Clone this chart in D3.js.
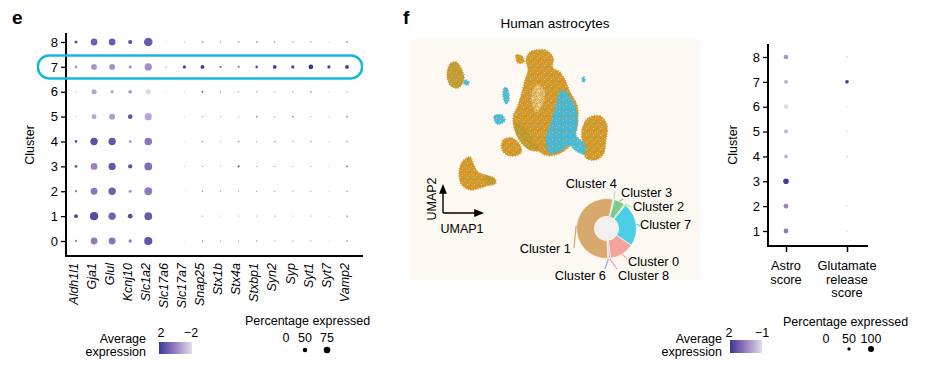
<!DOCTYPE html>
<html>
<head>
<meta charset="utf-8">
<script src="https://cdnjs.cloudflare.com/ajax/libs/d3/7.8.5/d3.min.js"></script>
<style>
  body { margin: 0; background: #fff; }
  svg { display: block; font-family: "Liberation Sans", Arial, Helvetica, sans-serif; }
</style>
</head>
<body>
<svg width="928" height="373"></svg>
<script>
// ---------- data: panel e (dot plot) ----------
const genes = ["Aldh1l1","Gja1","Glul","Kcnj10","Slc1a2","Slc17a6","Slc17a7","Snap25",
               "Stx1b","Stx4a","Stxbp1","Syn2","Syp","Syt1","Syt7","Vamp2"];
const clustersE = ["0","1","2","3","4","5","6","7","8"];
// percentage expressed, rows = cluster 0..8, cols = genes
const pctE = [
  [22,78,80,35,95, 5, 5,12,10,10,12,10,10,10, 8,15],
  [42,95,85,52,90, 5, 5,10, 8,10,10,12, 8,10, 8,15],
  [22,78,85,33,90, 5, 5,12,10,10,10,12,10,10, 8,12],
  [30,78,83,45,90, 5, 8,10,10,20,10,12,10,10, 8,18],
  [28,85,85,28,88, 5, 8,15,10,15,10,15,10,12, 8,15],
  [10,55,65,50,83, 5, 8,12,10,10,15,12,15,10, 8,18],
  [10,58,35,40,58, 8, 8,18,10,10,10,10,12,15, 8,10],
  [25,65,65,35,83,12,33,42,20,20,25,40,33,52,33,40],
  [33,78,78,45,100,8,10,15,12,15,15,15,12,12, 8,18]
];
// average expression (scaled), same layout
const avgE = [
  [-0.2, 0.2, 0.3, 0.2, 1.2,-1.8,-1.6, 0.2,-0.8,-0.6,-0.2,-0.6,-0.6,-0.6,-1.2, 0.0],
  [ 1.5, 1.4, 0.8, 1.5, 1.0,-1.8,-1.8,-0.5,-1.2,-0.8,-0.8,-0.4,-1.0,-0.6,-1.5,-0.3],
  [ 0.2, 0.3, 0.9,-0.4, 0.2,-1.8,-1.6,-0.3,-0.8,-0.6,-0.8,-0.5,-0.8,-0.7,-1.2,-0.4],
  [ 1.2, 0.0, 1.1, 1.4, 0.5,-1.8,-1.4,-0.5,-0.8, 1.0,-0.6,-0.4,-0.6,-0.6,-1.0, 0.5],
  [ 1.0, 1.3, 1.1,-0.6, 0.3,-1.8,-1.5,-0.2,-1.0, 0.0,-0.8,-0.2,-0.8,-0.3,-1.2,-0.3],
  [-1.0,-0.8,-0.6, 1.2,-0.8,-1.8,-1.5,-0.3,-0.8,-1.0, 0.2,-0.5, 0.2,-0.8,-1.2,-0.2],
  [-1.0,-0.8,-0.8,-0.5,-1.9,-1.8,-1.5, 1.0,-0.5,-0.8,-0.5,-0.5,-0.3, 0.2,-0.8,-0.5],
  [-0.3,-0.4,-0.3,-0.5,-0.3,-0.5, 1.8, 1.8, 0.8, 0.3, 1.6, 1.8, 1.8, 2.0, 1.8, 1.9],
  [ 1.2, 0.9, 1.0, 1.3, 1.0,-1.8,-1.2, 0.2,-0.3,-0.2, 0.0,-0.2,-0.5,-0.5,-1.5,-0.2]
];
const pctLegendE = [0, 50, 75];

// ---------- data: panel f (scores) ----------
const scores = [["Astro","score"], ["Glutamate","release","score"]];
const clustersF = ["1","2","3","4","5","6","7","8"];
// rows = cluster 1..8, cols = [astro, glutamate]
const pctF = [[78,11],[78,11],[93,1],[60,11],[63,11],[78,7],[60,56],[75,15]];
const avgF = [[0.6,0],[0.5,-0.3],[1.9,-1],[-0.3,0],[-0.3,-0.2],[-0.9,0],[-0.2,1.9],[0.2,-0.2]];
const pctLegendF = [0, 50, 100];

// ---------- data: donut of cluster shares ----------
const donutClusters = ["Cluster 4","Cluster 3","Cluster 2","Cluster 7","Cluster 0","Cluster 8","Cluster 6","Cluster 1"];
const donutShares = [0.8, 5.8, 0.8, 23.6, 13.3, 1.0, 0.6, 54.1];
const donutColors = ["#a6e3d6","#7ccb8c","#bfe0a0","#4ccfe6","#f5a39d","#e79bc8","#8eb0e6","#d7a96c"];

// ---------- data: UMAP blobs (umap units) ----------
const umapBlobs = [
  {mix:"mGreen",  pts:[[4.0,21.6],[4.6,21.8],[5.2,21.0],[5.4,20.0],[4.8,19.2],[4.1,19.4],[3.7,20.4]]},
  {mix:"mCyan",   pts:[[5.5,20.0],[5.9,19.8],[5.8,19.5],[5.4,19.6]]},
  {mix:"mOrange", pts:[[12.0,22.8],[13.5,23.0],[14.3,22.3],[14.3,21.2],[15.0,20.8],[15.5,20.0],[16.0,18.8],[16.7,17.5],
                       [16.8,16.0],[16.5,14.5],[15.8,13.2],[14.5,12.5],[13.5,12.5],[12.5,13.2],[11.5,14.0],[10.6,15.0],
                       [10.3,16.2],[10.8,17.5],[11.2,18.8],[11.5,20.0],[11.8,21.0],[11.6,22.0]]},
  {mix:"mLight",  pts:[[12.6,19.5],[13.4,19.0],[13.2,17.5],[12.6,16.8],[12.2,18.0]]},
  {mix:"mCyan",   pts:[[15.2,19.0],[16.2,18.0],[16.7,16.5],[16.5,14.5],[15.5,13.2],[14.0,12.7],[13.6,14.0],[14.2,16.0],[14.6,17.5]]},
  {mix:"mGreen",  pts:[[10.4,15.8],[11.5,15.2],[12.2,14.0],[13.0,13.0],[12.0,13.0],[10.8,14.2]]},
  {mix:"mOrange", pts:[[10.6,22.5],[11.2,22.4],[11.4,21.8],[10.8,21.7]]},
  {mix:"mCyan",   pts:[[9.4,19.2],[9.7,19.2],[9.9,18.0],[9.6,17.6],[9.3,18.4]]},
  {mix:"mCyan",   pts:[[8.4,16.4],[9.2,16.5],[9.5,15.9],[8.7,15.6]]},
  {mix:"mOrange", pts:[[17.8,16.2],[19.0,16.4],[19.7,15.5],[19.6,14.0],[19.3,12.5],[18.5,12.0],[17.6,12.2],[17.3,13.5],[17.2,15.0]]},
  {mix:"mCyan",   pts:[[16.0,15.0],[16.8,14.2],[17.5,13.5],[17.4,12.6],[16.5,13.0],[15.8,14.0]]},
  {mix:"mOrange", pts:[[9.3,14.0],[10.2,14.2],[11.0,13.5],[11.1,12.7],[10.0,12.4],[9.2,13.0]]},
  {mix:"mOrange", pts:[[5.2,11.8],[6.0,12.3],[6.4,11.5],[6.8,10.8],[7.8,10.4],[8.5,10.0],[8.0,9.6],[7.0,9.2],[6.0,9.0],[5.2,9.5],[4.9,10.5]]},
  {mix:"mGreen",  pts:[[7.4,10.4],[8.4,10.2],[8.6,9.7],[7.8,9.5]]},
  {mix:"mCyan",   pts:[[17.2,20.2],[17.4,20.3],[17.5,19.9],[17.3,19.8]]}
];

// ---------- setup ----------
const svg = d3.select("svg");
const defs = svg.append("defs");
const BG = "#fdf8f1";

//color scales
const colE = d3.scaleLinear().domain([2, 0, -2]).range(["#383a93", "#9a80c3", "#e2dde8"]).interpolate(d3.interpolateLab).clamp(true);
const colF = d3.scaleLinear().domain([2, 0.5, -1]).range(["#383a93", "#9a80c3", "#e2dde8"]).interpolate(d3.interpolateLab).clamp(true);

function gradient(id, scale, dom) {
  const gr = defs.append("linearGradient").attr("id", id);
  d3.range(0, 1.001, 0.1).forEach(t => {
    gr.append("stop").attr("offset", t).attr("stop-color", scale(dom[0] + (dom[1] - dom[0]) * t));
  });
}
gradient("gradE", colE, [2, -2]);
gradient("gradF", colF, [2, -1]);

//panel letters
svg.append("text").attr("x", 12).attr("y", 24).style("font", "bold 19px 'Liberation Sans', Arial").text("e");
svg.append("text").attr("x", 403).attr("y", 24).style("font", "bold 19px 'Liberation Sans', Arial").text("f");

// ================= panel e =================
const xE = d3.scalePoint().domain(genes).range([76, 347]);
const yE = d3.scalePoint().domain(clustersE).range([241, 42]);
const rE = d3.scaleLinear().domain([0, 100]).range([0.25, 4.3]);

const cellsE = clustersE.flatMap((c, i) => genes.map((g, j) => ({c, g, p: pctE[i][j], a: avgE[i][j]})));
svg.append("g").selectAll("circle").data(cellsE).enter().append("circle")
  .attr("cx", d => xE(d.g)).attr("cy", d => yE(d.c))
  .attr("r", d => rE(d.p)).attr("fill", d => colE(d.a));

const gyE = svg.append("g").attr("transform", "translate(66,0)")
  .call(d3.axisLeft(yE).tickSize(5).tickPadding(3));
gyE.select(".domain").remove();
gyE.selectAll("line").attr("stroke-width", 1.3);
gyE.selectAll("text").attr("font-size", 13).attr("font-family", "'Liberation Sans', Arial");

const gxE = svg.append("g").attr("transform", "translate(0,256)")
  .call(d3.axisBottom(xE).tickSize(0));
gxE.select(".domain").remove();
gxE.selectAll("text")
  .attr("transform", "rotate(-90)").attr("text-anchor", "end")
  .attr("x", -7).attr("y", 0).attr("dy", "0.1em")
  .attr("font-size", 12.5).attr("font-style", "italic").attr("font-family", "'Liberation Sans', Arial");

svg.append("path").attr("d", "M66,33V256H363").attr("fill", "none").attr("stroke", "#000").attr("stroke-width", 2);

svg.append("text").attr("transform", "translate(34,145) rotate(-90)").attr("text-anchor", "middle")
  .attr("font-size", 12.5).text("Cluster");

//highlight cluster 7
svg.append("rect").attr("x", 38).attr("y", yE("7") - 11.5).attr("width", 324).attr("height", 23).attr("rx", 11)
  .attr("fill", "none").attr("stroke", "#17b6df").attr("stroke-width", 2.5);

//legend e
const legE = svg.append("g").attr("font-size", 12.5);
legE.append("text").attr("x", 146).attr("y", 343).attr("text-anchor", "end").text("Average");
legE.append("text").attr("x", 146).attr("y", 356).attr("text-anchor", "end").text("expression");
legE.append("rect").attr("x", 159).attr("y", 342).attr("width", 33).attr("height", 12).attr("fill", "url(#gradE)");
legE.append("text").attr("x", 161).attr("y", 337).attr("text-anchor", "middle").text("2");
legE.append("text").attr("x", 191).attr("y", 337).attr("text-anchor", "middle").text("\u22122");
legE.append("text").attr("x", 245).attr("y", 325).text("Percentage expressed");
pctLegendE.forEach((v, i) => {
  const x = [286, 305, 327][i];
  legE.append("text").attr("x", x).attr("y", 342).attr("text-anchor", "middle").text(v);
  legE.append("circle").attr("cx", x).attr("cy", 350).attr("r", rE(v)).attr("fill", "#000");
});

// ================= panel f: UMAP =================
svg.append("text").attr("x", 555).attr("y", 28).attr("text-anchor", "middle").attr("font-size", 13.5).text("Human astrocytes");
svg.append("rect").attr("x", 410).attr("y", 39).attr("width", 290).attr("height", 241).attr("fill", BG);

const ORANGE = "#d5941c", CYAN = "#3cbbe6", GREEN = "#6fae48", PINK = "#e98f8a";
function speckle(id, base, specks) {
  const p = defs.append("pattern").attr("id", id).attr("patternUnits", "userSpaceOnUse").attr("width", 7).attr("height", 7);
  p.append("rect").attr("width", 7).attr("height", 7).attr("fill", base);
  specks.forEach(s => p.append("rect").attr("x", s[0]).attr("y", s[1]).attr("width", 1).attr("height", 1).attr("fill", s[2]));
}
speckle("mOrange", ORANGE, [[0,0,"#e4b15a"],[3,1,CYAN],[5,2,"#e9c07a"],[1,3,"#c88818"],[6,4,GREEN],[2,5,"#e4b15a"],[4,6,PINK],[5,5,"#c88818"]]);
speckle("mLight", "#e6bd72", [[0,0,BG],[3,1,ORANGE],[5,3,BG],[1,4,CYAN],[4,5,ORANGE],[6,6,BG],[2,2,ORANGE]]);
speckle("mCyan", CYAN, [[0,0,ORANGE],[3,1,"#7fd3ef"],[5,2,ORANGE],[1,4,GREEN],[4,5,ORANGE],[6,6,"#7fd3ef"],[2,6,ORANGE]]);
speckle("mGreen", ORANGE, [[0,0,GREEN],[2,0,GREEN],[4,1,GREEN],[1,2,PINK],[3,2,GREEN],[5,3,GREEN],[0,4,CYAN],[2,4,GREEN],[6,5,GREEN],[3,6,PINK],[5,6,GREEN],[1,6,GREEN]]);

const ux = d3.scaleLinear().domain([0, 29]).range([410, 700]);
const uy = d3.scaleLinear().domain([0, 24.1]).range([280, 39]);
const blobLine = d3.line().x(d => ux(d[0])).y(d => uy(d[1])).curve(d3.curveCatmullRomClosed);
svg.append("g").selectAll("path").data(umapBlobs).enter().append("path")
  .attr("d", d => blobLine(d.pts)).attr("fill", d => "url(#" + d.mix + ")")
  .attr("stroke", d => "url(#" + d.mix + ")").attr("stroke-width", 1.5).attr("stroke-dasharray", "1,1.5")
  .attr("opacity", 0.95);

//UMAP arrows
defs.append("marker").attr("id", "arr").attr("viewBox", "0 0 10 10").attr("refX", 8).attr("refY", 5)
  .attr("markerWidth", 7).attr("markerHeight", 7).attr("orient", "auto")
  .append("path").attr("d", "M0,1L10,5L0,9z").attr("fill", "#000");
svg.append("path").attr("d", "M443,213V186").attr("stroke", "#000").attr("stroke-width", 1.4).attr("marker-end", "url(#arr)");
svg.append("path").attr("d", "M443,213H482").attr("stroke", "#000").attr("stroke-width", 1.4).attr("marker-end", "url(#arr)");
svg.append("text").attr("transform", "translate(436,199) rotate(-90)").attr("text-anchor", "middle").attr("font-size", 12.5).text("UMAP2");
svg.append("text").attr("x", 462).attr("y", 233).attr("text-anchor", "middle").attr("font-size", 12.5).text("UMAP1");

//donut
const dcx = 606.5, dcy = 228.5, rOut = 30, rIn = 12;
const pie = d3.pie().sort(null).value(d => d).startAngle(12.5 * Math.PI / 180).endAngle(12.5 * Math.PI / 180 + 2 * Math.PI);
const arcs = pie(donutShares);
const arc = d3.arc().innerRadius(rIn).outerRadius(rOut);
const gD = svg.append("g").attr("transform", "translate(" + dcx + "," + dcy + ")");
gD.selectAll("path").data(arcs).enter().append("path")
  .attr("d", arc).attr("fill", (d, i) => donutColors[i]).attr("stroke", BG).attr("stroke-width", 0.7);
gD.append("circle").attr("r", rIn).attr("fill", "#f1f0ed");

//label layout: [text x, text y, anchor, leader end x, leader end y]
const donutLabelPos = [
  [617, 188, "end",   615, 191],
  [621, 197, "start", 623, 199],
  [633, 211, "start", 632, 207],
  [640, 229, "start", 640, 226],
  [628, 266, "start", 627, 259],
  [618, 280, "start", 617, 269],
  [606, 280, "end",   605, 269],
  [571, 253, "end",   574, 248]
];
arcs.forEach((a, i) => {
  const m = (a.startAngle + a.endAngle) / 2;
  const L = donutLabelPos[i];
  svg.append("line")
    .attr("x1", dcx + Math.sin(m) * (rOut + 0.5)).attr("y1", dcy - Math.cos(m) * (rOut + 0.5))
    .attr("x2", L[3]).attr("y2", L[4]).attr("stroke", donutColors[i]).attr("stroke-width", 1.2);
  svg.append("text").attr("x", L[0]).attr("y", L[1]).attr("text-anchor", L[2]).attr("font-size", 12.8).text(donutClusters[i]);
});

// ================= panel f: scores dot plot =================
const xF = d3.scalePoint().domain(scores.map(s => s[0])).range([786, 847]);
const yF = d3.scalePoint().domain(clustersF).range([231, 57]);
const rF = d3.scaleLinear().domain([0, 100]).range([0.3, 3]);
const cellsF = clustersF.flatMap((c, i) => scores.map((s, j) => ({c, s: s[0], p: pctF[i][j], a: avgF[i][j]})));
svg.append("g").selectAll("circle").data(cellsF).enter().append("circle")
  .attr("cx", d => xF(d.s)).attr("cy", d => yF(d.c)).attr("r", d => rF(d.p)).attr("fill", d => colF(d.a));

const gyF = svg.append("g").attr("transform", "translate(768,0)")
  .call(d3.axisLeft(yF).tickSize(5).tickPadding(3));
gyF.select(".domain").remove();
gyF.selectAll("line").attr("stroke-width", 1.3);
gyF.selectAll("text").attr("font-size", 13).attr("font-family", "'Liberation Sans', Arial");

const gxF = svg.append("g").attr("transform", "translate(0,246)")
  .call(d3.axisBottom(xF).tickSize(6).tickFormat(""));
gxF.select(".domain").remove();
gxF.selectAll("line").attr("stroke-width", 1.5);
scores.forEach(s => {
  s.forEach((w, k) => svg.append("text").attr("x", xF(s[0])).attr("y", 270 + k * 13.5)
    .attr("text-anchor", "middle").attr("font-size", 12.8).text(w));
});
svg.append("path").attr("d", "M768,44V246H868").attr("fill", "none").attr("stroke", "#000").attr("stroke-width", 2);
svg.append("text").attr("transform", "translate(737,145) rotate(-90)").attr("text-anchor", "middle")
  .attr("font-size", 12.5).text("Cluster");

//legend f
const legF = svg.append("g").attr("font-size", 12.5);
legF.append("text").attr("x", 722).attr("y", 343).attr("text-anchor", "end").text("Average");
legF.append("text").attr("x", 722).attr("y", 356).attr("text-anchor", "end").text("expression");
legF.append("rect").attr("x", 730).attr("y", 340).attr("width", 32).attr("height", 13).attr("fill", "url(#gradF)");
legF.append("text").attr("x", 729).attr("y", 337).attr("text-anchor", "middle").text("2");
legF.append("text").attr("x", 762).attr("y", 337).attr("text-anchor", "middle").text("\u22121");
legF.append("text").attr("x", 783).attr("y", 326).text("Percentage expressed");
pctLegendF.forEach((v, i) => {
  const x = [826, 849, 871][i];
  legF.append("text").attr("x", x).attr("y", 343).attr("text-anchor", "middle").text(v);
  legF.append("circle").attr("cx", x).attr("cy", 349).attr("r", rF(v)).attr("fill", i === 0 ? "#999" : "#000");
});
</script>
</body>
</html>
